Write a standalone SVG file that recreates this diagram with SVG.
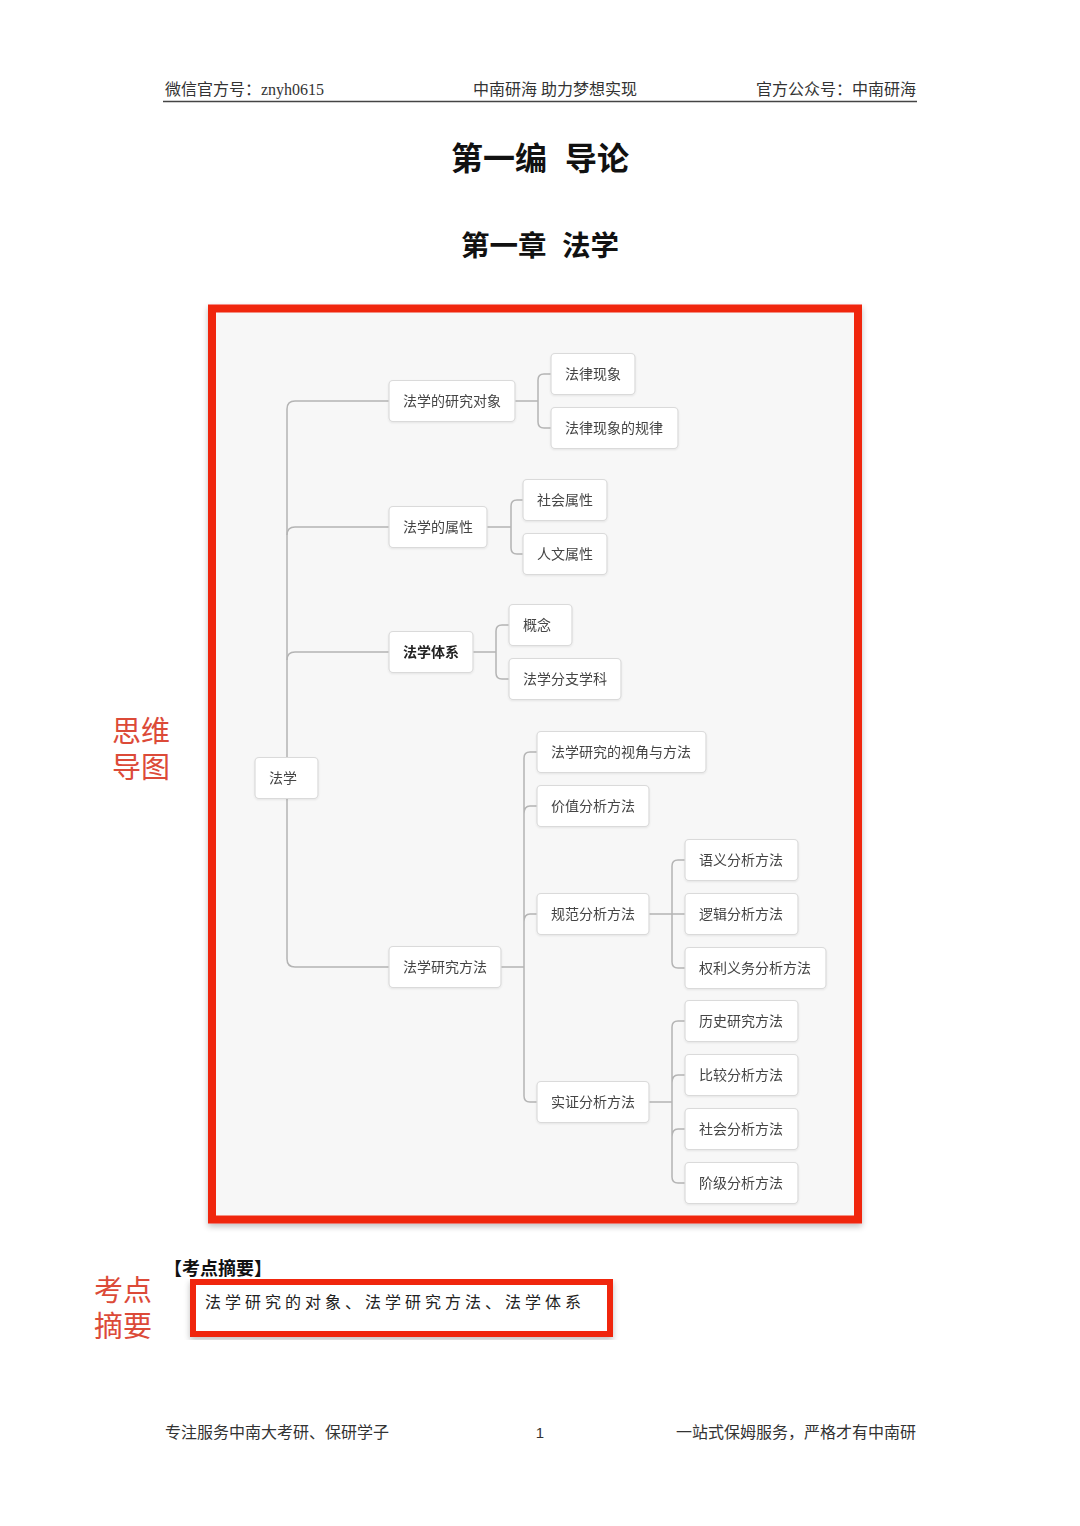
<svg xmlns="http://www.w3.org/2000/svg" width="1080" height="1526" viewBox="0 0 1080 1526">
<defs>
<style>
.hdr{font-family:"Liberation Serif","Noto Sans CJK SC",serif;font-size:16px;fill:#333}
.ttl{font-family:"Noto Sans CJK SC",sans-serif;font-weight:bold;fill:#111}
.lbl{font-family:"Noto Sans CJK SC",sans-serif;font-size:29px;fill:#dc4a38}
.box{fill:#fff;stroke:#dadada;stroke-width:1.2}
.nt{font-family:"Noto Sans CJK SC",sans-serif;font-size:14px;fill:#444}
.b{font-weight:bold;fill:#222}
.cn{fill:none;stroke:#b4b4b4;stroke-width:1.5}
</style>
<filter id="sh" x="-10%" y="-10%" width="120%" height="120%">
<feGaussianBlur in="SourceAlpha" stdDeviation="3"/>
<feOffset dx="0" dy="3"/>
<feComponentTransfer><feFuncA type="linear" slope="0.25"/></feComponentTransfer>
<feMerge><feMergeNode/><feMergeNode in="SourceGraphic"/></feMerge>
</filter>
<filter id="ns" x="-10%" y="-20%" width="120%" height="140%">
<feGaussianBlur in="SourceAlpha" stdDeviation="1"/>
<feOffset dx="0" dy="1"/>
<feComponentTransfer><feFuncA type="linear" slope="0.08"/></feComponentTransfer>
<feMerge><feMergeNode/><feMergeNode in="SourceGraphic"/></feMerge>
</filter>
</defs>
<rect width="1080" height="1526" fill="#fff"/>

<g id="header">
<text class="hdr" x="165" y="95">微信官方号：znyh0615</text>
<text class="hdr" x="555" y="95" text-anchor="middle">中南研海 助力梦想实现</text>
<text class="hdr" x="916" y="95" text-anchor="end">官方公众号：中南研海</text>
<line x1="163" y1="101.5" x2="917" y2="101.5" stroke="#444" stroke-width="1.5"/>
</g>

<g id="titles">
<text class="ttl" x="451" y="170" font-size="32"><tspan>第一编</tspan><tspan x="565">导论</tspan></text>
<text class="ttl" x="461" y="256" font-size="28.5"><tspan>第一章</tspan><tspan x="562">法学</tspan></text>
</g>

<g id="label-mindmap">
<text class="lbl" x="112" y="742"><tspan>思维</tspan><tspan x="112" dy="36">导图</tspan></text>
</g>

<g id="frame">
<rect x="212" y="308.5" width="646" height="911" fill="#f7f7f7" stroke="#f0260e" stroke-width="8" filter="url(#sh)"/>
</g>

<g id="connectors" class="cn">
<path d="M389,401 H295 Q287,401 287,409 V959 Q287,967 295,967 H389"/>
<path d="M287,535 Q287,527 295,527 H389"/>
<path d="M287,660 Q287,652 295,652 H389"/>
<path d="M515,401 H538 M551,374 H544 Q538,374 538,380 V422 Q538,428 544,428 H551"/>
<path d="M487,527 H511 M523,500 H517 Q511,500 511,506 V548 Q511,554 517,554 H523"/>
<path d="M473,652 H496 M509,625 H502 Q496,625 496,631 V673 Q496,679 502,679 H509"/>
<path d="M501,967 H524 M537,752 H530 Q524,752 524,758 V1096 Q524,1102 530,1102 H537 M524,814 Q524,806 530,806 H537 M524,922 Q524,914 530,914 H537"/>
<path d="M649,914 H685 M685,860 H678 Q672,860 672,866 V962 Q672,968 678,968 H685"/>
<path d="M649,1102 H672 M685,1021 H678 Q672,1021 672,1027 V1177 Q672,1183 678,1183 H685 M672,1083 Q672,1075 678,1075 H685 M672,1137 Q672,1129 678,1129 H685"/>
</g>

<g id="n-root" filter="url(#ns)"><rect class="box" x="255" y="757.5" width="63" height="41" rx="4"/><text class="nt" x="269" y="783">法学</text></g>
<g id="n-dx" filter="url(#ns)"><rect class="box" x="389" y="380.5" width="126" height="41" rx="4"/><text class="nt" x="403" y="406">法学的研究对象</text></g>
<g id="n-xx" filter="url(#ns)"><rect class="box" x="551" y="353.5" width="84" height="41" rx="4"/><text class="nt" x="565" y="379">法律现象</text></g>
<g id="n-gl" filter="url(#ns)"><rect class="box" x="551" y="407.5" width="127" height="41" rx="4"/><text class="nt" x="565" y="433">法律现象的规律</text></g>
<g id="n-sx" filter="url(#ns)"><rect class="box" x="389" y="506.5" width="98" height="41" rx="4"/><text class="nt" x="403" y="532">法学的属性</text></g>
<g id="n-sh" filter="url(#ns)"><rect class="box" x="523" y="479.5" width="84" height="41" rx="4"/><text class="nt" x="537" y="505">社会属性</text></g>
<g id="n-rw" filter="url(#ns)"><rect class="box" x="523" y="533.5" width="84" height="41" rx="4"/><text class="nt" x="537" y="559">人文属性</text></g>
<g id="n-tx" filter="url(#ns)"><rect class="box" x="389" y="631.5" width="84" height="41" rx="4"/><text class="nt b" x="403" y="657">法学体系</text></g>
<g id="n-gn" filter="url(#ns)"><rect class="box" x="509" y="604.5" width="63" height="41" rx="4"/><text class="nt" x="523" y="630">概念</text></g>
<g id="n-fz" filter="url(#ns)"><rect class="box" x="509" y="658.5" width="112" height="41" rx="4"/><text class="nt" x="523" y="684">法学分支学科</text></g>
<g id="n-ff" filter="url(#ns)"><rect class="box" x="389" y="946.5" width="112" height="41" rx="4"/><text class="nt" x="403" y="972">法学研究方法</text></g>
<g id="n-sj" filter="url(#ns)"><rect class="box" x="537" y="731.5" width="169" height="41" rx="4"/><text class="nt" x="551" y="757">法学研究的视角与方法</text></g>
<g id="n-jz" filter="url(#ns)"><rect class="box" x="537" y="785.5" width="112" height="41" rx="4"/><text class="nt" x="551" y="811">价值分析方法</text></g>
<g id="n-gf" filter="url(#ns)"><rect class="box" x="537" y="893.5" width="112" height="41" rx="4"/><text class="nt" x="551" y="919">规范分析方法</text></g>
<g id="n-sz" filter="url(#ns)"><rect class="box" x="537" y="1081.5" width="112" height="41" rx="4"/><text class="nt" x="551" y="1107">实证分析方法</text></g>
<g id="n-yy" filter="url(#ns)"><rect class="box" x="685" y="839.5" width="113" height="41" rx="4"/><text class="nt" x="699" y="865">语义分析方法</text></g>
<g id="n-lj" filter="url(#ns)"><rect class="box" x="685" y="893.5" width="113" height="41" rx="4"/><text class="nt" x="699" y="919">逻辑分析方法</text></g>
<g id="n-ql" filter="url(#ns)"><rect class="box" x="685" y="947.5" width="141" height="41" rx="4"/><text class="nt" x="699" y="973">权利义务分析方法</text></g>
<g id="n-ls" filter="url(#ns)"><rect class="box" x="685" y="1000.5" width="113" height="41" rx="4"/><text class="nt" x="699" y="1026">历史研究方法</text></g>
<g id="n-bj" filter="url(#ns)"><rect class="box" x="685" y="1054.5" width="113" height="41" rx="4"/><text class="nt" x="699" y="1080">比较分析方法</text></g>
<g id="n-shff" filter="url(#ns)"><rect class="box" x="685" y="1108.5" width="113" height="41" rx="4"/><text class="nt" x="699" y="1134">社会分析方法</text></g>
<g id="n-jj" filter="url(#ns)"><rect class="box" x="685" y="1162.5" width="113" height="41" rx="4"/><text class="nt" x="699" y="1188">阶级分析方法</text></g>

<g id="summary">
<text x="164" y="1275" font-family="Liberation Serif,Noto Sans CJK SC,serif" font-size="18" font-weight="bold" fill="#111">【考点摘要】</text>
<rect x="193" y="1282" width="417" height="52" fill="#fff" stroke="#f0260e" stroke-width="6" filter="url(#sh)"/>
<text x="205" y="1308" font-family="Noto Sans CJK SC,sans-serif" font-size="16" letter-spacing="4" fill="#222">法学研究的对象、法学研究方法、法学体系</text>
<text class="lbl" x="94" y="1301"><tspan>考点</tspan><tspan x="94" dy="36">摘要</tspan></text>
</g>

<g id="footer">
<text class="hdr" x="165" y="1438">专注服务中南大考研、保研学子</text>
<text x="540" y="1438" font-family="Liberation Sans,sans-serif" font-size="15" fill="#333" text-anchor="middle">1</text>
<text class="hdr" x="916" y="1438" text-anchor="end">一站式保姆服务，严格才有中南研</text>
</g>
</svg>
